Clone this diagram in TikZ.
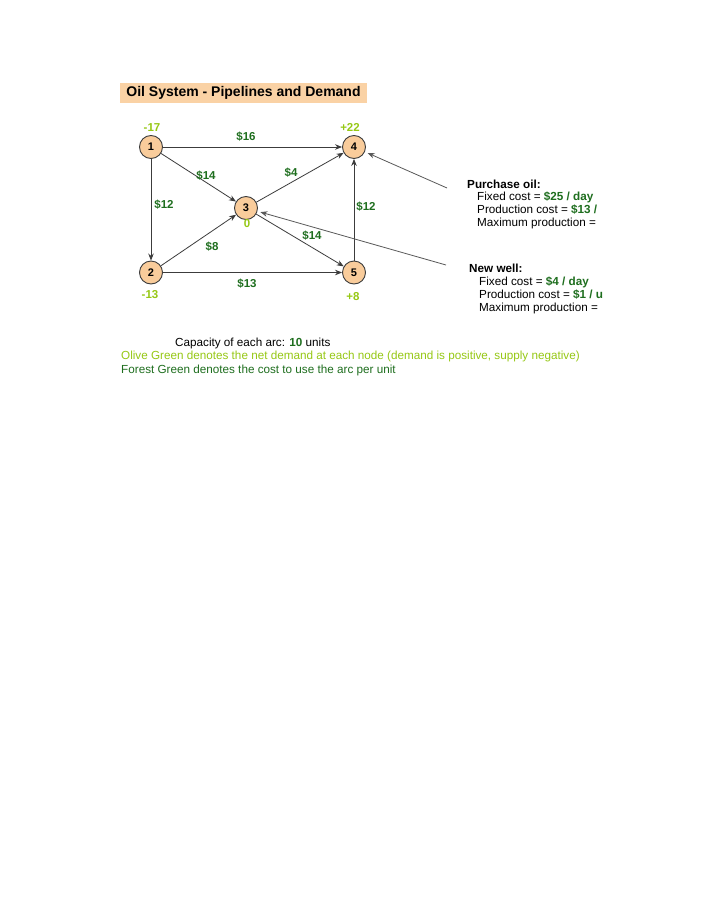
\documentclass[tikz,border=0pt]{standalone}
\usepackage{fontspec}
\setmainfont{Liberation Sans}
\usetikzlibrary{arrows.meta}
\definecolor{olive}{RGB}{150,200,20}
\definecolor{forest}{RGB}{30,110,30}
\definecolor{nodefill}{RGB}{249,204,155}
\definecolor{titlefill}{RGB}{250,210,165}
\definecolor{edgegray}{RGB}{60,60,60}
\begin{document}
\begin{tikzpicture}[x=1pt,y=-1pt,
  netnode/.style={circle,draw=edgegray,fill=nodefill,line width=0.9pt,minimum size=23pt,inner sep=0pt,font=\fontsize{11}{13}\selectfont\bfseries},
  arc/.style={draw=edgegray,line width=0.8pt,-{Stealth[length=7pt,width=5.5pt]}},
  longarc/.style={draw=edgegray!85,line width=0.8pt,-{Stealth[length=7pt,width=5.5pt]},shorten >=3pt},
  cost/.style={text=forest,font=\fontsize{11.5}{13}\selectfont\bfseries,inner sep=0pt},
  demand/.style={text=olive,font=\fontsize{11.5}{13}\selectfont\bfseries,inner sep=0pt},
  txt/.style={anchor=west,inner sep=0pt,font=\fontsize{11.7}{13}\selectfont},
  btxt/.style={anchor=west,inner sep=0pt,font=\fontsize{11.7}{13}\selectfont\bfseries},
]
\useasboundingbox (0,0) rectangle (714,918);
\fill[white] (0,0) rectangle (714,918);
% title
\node[fill=titlefill,minimum width=247pt,minimum height=20pt,inner sep=0pt,font=\fontsize{14}{16}\selectfont\bfseries] (title) at (243.5,92.5) {Oil System - Pipelines and Demand};
% nodes
\node[netnode] (n1) at (151,147) {1};
\node[netnode] (n4) at (354,147) {4};
\node[netnode] (n3) at (246,208) {3};
\node[netnode] (n2) at (151,272.5) {2};
\node[netnode] (n5) at (354,272.5) {5};
% arcs
\draw[arc] (n1) -- (n4);
\draw[arc] (n1) -- (n3);
\draw[arc] (n1) -- (n2);
\draw[arc] (n2) -- (n3);
\draw[arc] (n2) -- (n5);
\draw[arc] (n3) -- (n4);
\draw[arc] (n3) -- (n5);
\draw[arc] (n5) -- (n4);
% external arrows
\coordinate (pstart) at (447,188);
\coordinate (wstart) at (446,265);
\draw[longarc] (pstart) -- (n4);
\draw[longarc] (wstart) -- (n3);
% demand labels
\node[demand] (d1) at (152,128) {-17};
\node[demand] (d4) at (350,127) {+22};
\node[demand] (d2) at (150,295) {-13};
\node[demand] (d5) at (353,297) {+8};
\node[demand] (d3) at (247,224) {0};
% cost labels
\node[cost] (c14) at (246,137) {\$16};
\node[cost] (c13) at (206,176) {\$14};
\node[cost] (c34) at (291,173) {\$4};
\node[cost] (c12) at (164,205) {\$12};
\node[cost] (c54) at (366,207) {\$12};
\node[cost] (c23) at (212,247) {\$8};
\node[cost] (c35) at (312,236) {\$14};
\node[cost] (c25) at (247,284) {\$13};
% right texts
\node[btxt] (ptitle) at (467,184) {Purchase oil:};
\node[txt] (p1) at (477,197) {Fixed cost = \textcolor{forest}{\bfseries\$25 / day}};
\node[txt] (p2) at (477,210) {Production cost = \textcolor{forest}{\bfseries\$13 /}};
\node[txt] (p3) at (477,223) {Maximum production =};
\node[btxt] (wtitle) at (469,268) {New well:};
\node[txt] (w1) at (479,282) {Fixed cost = \textcolor{forest}{\bfseries\$4 / day}};
\node[txt] (w2) at (479,295) {Production cost = \textcolor{forest}{\bfseries\$1 / u}};
\node[txt] (w3) at (479,308) {Maximum production =};
% bottom texts
\node[txt] (cap) at (175,343) {Capacity of each arc: \textcolor{forest}{\bfseries 10} units};
\node[txt,text=olive] (leg1) at (121,356) {Olive Green denotes the net demand at each node (demand is positive, supply negative)};
\node[txt,text=forest] (leg2) at (121,370) {Forest Green denotes the cost to use the arc per unit};
\end{tikzpicture}
\end{document}
